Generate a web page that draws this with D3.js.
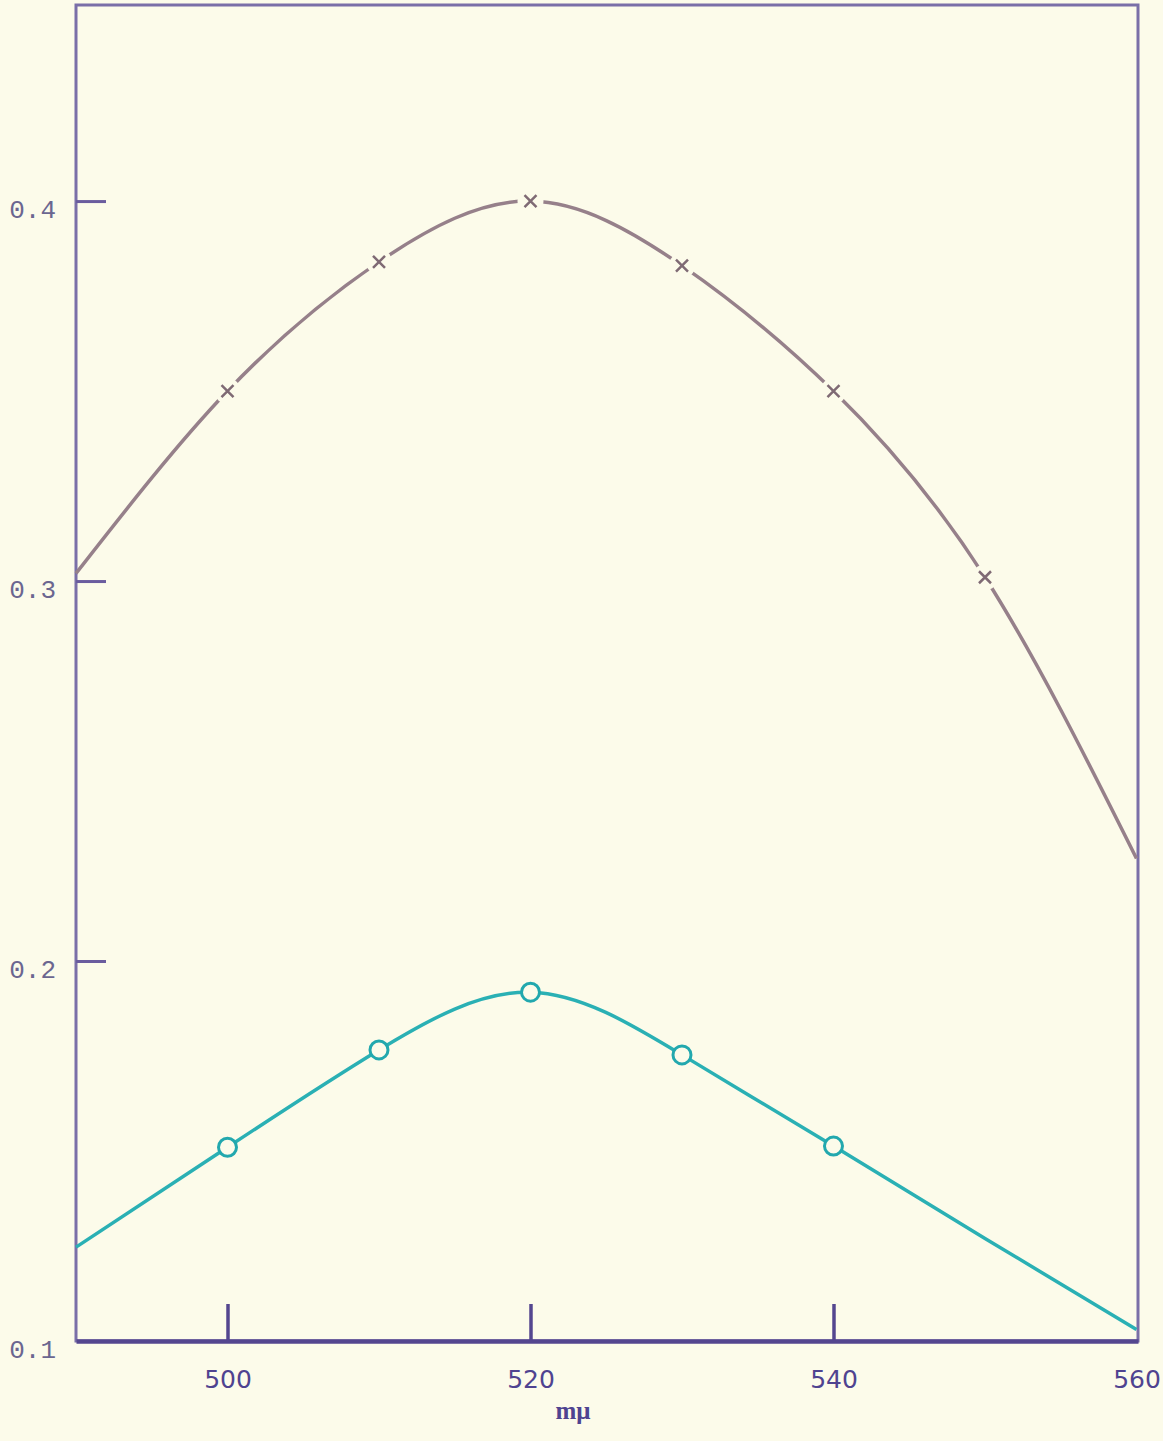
<!DOCTYPE html>
<html>
<head>
<meta charset="utf-8">
<script src="https://cdn.jsdelivr.net/npm/d3@7"></script>
<style>
  html, body { margin: 0; padding: 0; background: #fcfbea; }
  svg { display: block; }
</style>
</head>
<body>
<div id="chart"></div>
<script>
// values (wavelength in m\u03bc)
const wavelengths = [490, 500, 510, 520, 530, 540, 550, 560];
const upperValues = [0.302, 0.350, 0.384, 0.400, 0.383, 0.350, 0.301, 0.227];
const lowerValues = [0.1247, 0.151, 0.1766, 0.1918, 0.1753, 0.1513, 0.127, 0.103];
const upperMarked = [500, 510, 520, 530, 540, 550];
const lowerMarked = [500, 510, 520, 530, 540];
const xTicks = [500, 520, 540, 560];
const yTicks = [0.1, 0.2, 0.3, 0.4];
const yTickLabels = ['0.1', '0.2', '0.3', '0.4'];
const unitLabel = 'm\u03bc';

const width = 1163;
const height = 1441;
const bg = '#fcfbea';

const svg = d3.select('#chart').append('svg')
  .attr('width', width)
  .attr('height', height)
  .style('background', bg);

const xScale = d3.scaleLinear().domain([490, 560.1]).range([76, 1138]);
const yScale = d3.scaleLinear().domain([0.1, 0.4516]).range([1341, 5]);

// frame
svg.append('rect')
  .attr('x', xScale.range()[0])
  .attr('y', yScale.range()[1])
  .attr('width', xScale.range()[1] - xScale.range()[0])
  .attr('height', yScale.range()[0] - yScale.range()[1])
  .attr('fill', 'none')
  .attr('stroke', '#7a6fa8')
  .attr('stroke-width', 3);

// y axis: ticks point inward
const yAxis = d3.axisLeft(yScale)
  .tickValues(yTicks)
  .tickSize(-30)
  .tickSizeOuter(0)
  .tickPadding(20)
  .tickFormat((d, i) => yTickLabels[i]);

const gy = svg.append('g')
  .attr('transform', `translate(${xScale.range()[0]},0)`)
  .call(yAxis);
gy.select('.domain').remove();
gy.selectAll('.tick line')
  .attr('stroke', '#6a5c9e')
  .attr('stroke-width', 3)
  .style('display', (d) => (d === 0.1 ? 'none' : null));
gy.selectAll('.tick text')
  .attr('dy', '0.62em')
  .style('font-family', '"Liberation Mono", "DejaVu Sans Mono", monospace')
  .style('font-size', '26px')
  .attr('fill', '#6b6690');

// x axis: ticks point upward
const xAxis = d3.axisBottom(xScale)
  .tickValues(xTicks)
  .tickSize(-37)
  .tickSizeOuter(0)
  .tickPadding(29);

const gx = svg.append('g')
  .attr('transform', `translate(0,${yScale.range()[0]})`)
  .call(xAxis);
gx.select('.domain')
  .attr('stroke', '#54468f')
  .attr('stroke-width', 4.5);
gx.selectAll('.tick line')
  .attr('stroke', '#54468f')
  .attr('stroke-width', 3.5)
  .style('display', (d) => (d === 560 ? 'none' : null));
gx.selectAll('.tick text')
  .style('font-family', '"DejaVu Sans", sans-serif')
  .style('font-size', '25px')
  .attr('fill', '#4f4390');

// unit label under the axis
svg.append('text')
  .attr('x', xScale(522.8))
  .attr('y', 1419)
  .attr('text-anchor', 'middle')
  .style('font-family', '"Liberation Serif", serif')
  .style('font-size', '25px')
  .style('font-weight', 'bold')
  .attr('fill', '#4f4390')
  .text(unitLabel);

const line = d3.line()
  .x((d) => xScale(d[0]))
  .y((d) => yScale(d[1]))
  .curve(d3.curveNatural);

// upper curve (x markers)
const upperPts = wavelengths.map((w, i) => [w, upperValues[i]]);
svg.append('path')
  .datum(upperPts)
  .attr('d', line)
  .attr('fill', 'none')
  .attr('stroke', '#96808a')
  .attr('stroke-width', 3.5);

const upperM = upperPts.filter((d) => upperMarked.includes(d[0]));
const um = svg.append('g')
  .selectAll('g')
  .data(upperM)
  .join('g')
  .attr('transform', (d) => `translate(${xScale(d[0])},${yScale(d[1])})`);
um.append('circle').attr('r', 13).attr('fill', bg);
um.append('path')
  .attr('d', 'M-6,-6L6,6M6,-6L-6,6')
  .attr('stroke', '#7f6a74')
  .attr('stroke-width', 2.5);

// lower curve (open circles)
const lowerPts = wavelengths.map((w, i) => [w, lowerValues[i]]);
svg.append('path')
  .datum(lowerPts)
  .attr('d', line)
  .attr('fill', 'none')
  .attr('stroke', '#2ab0b4')
  .attr('stroke-width', 3.5);

svg.append('g')
  .selectAll('circle')
  .data(lowerPts.filter((d) => lowerMarked.includes(d[0])))
  .join('circle')
  .attr('cx', (d) => xScale(d[0]))
  .attr('cy', (d) => yScale(d[1]))
  .attr('r', 9)
  .attr('fill', bg)
  .attr('stroke', '#22a8ae')
  .attr('stroke-width', 3);
</script>
</body>
</html>
